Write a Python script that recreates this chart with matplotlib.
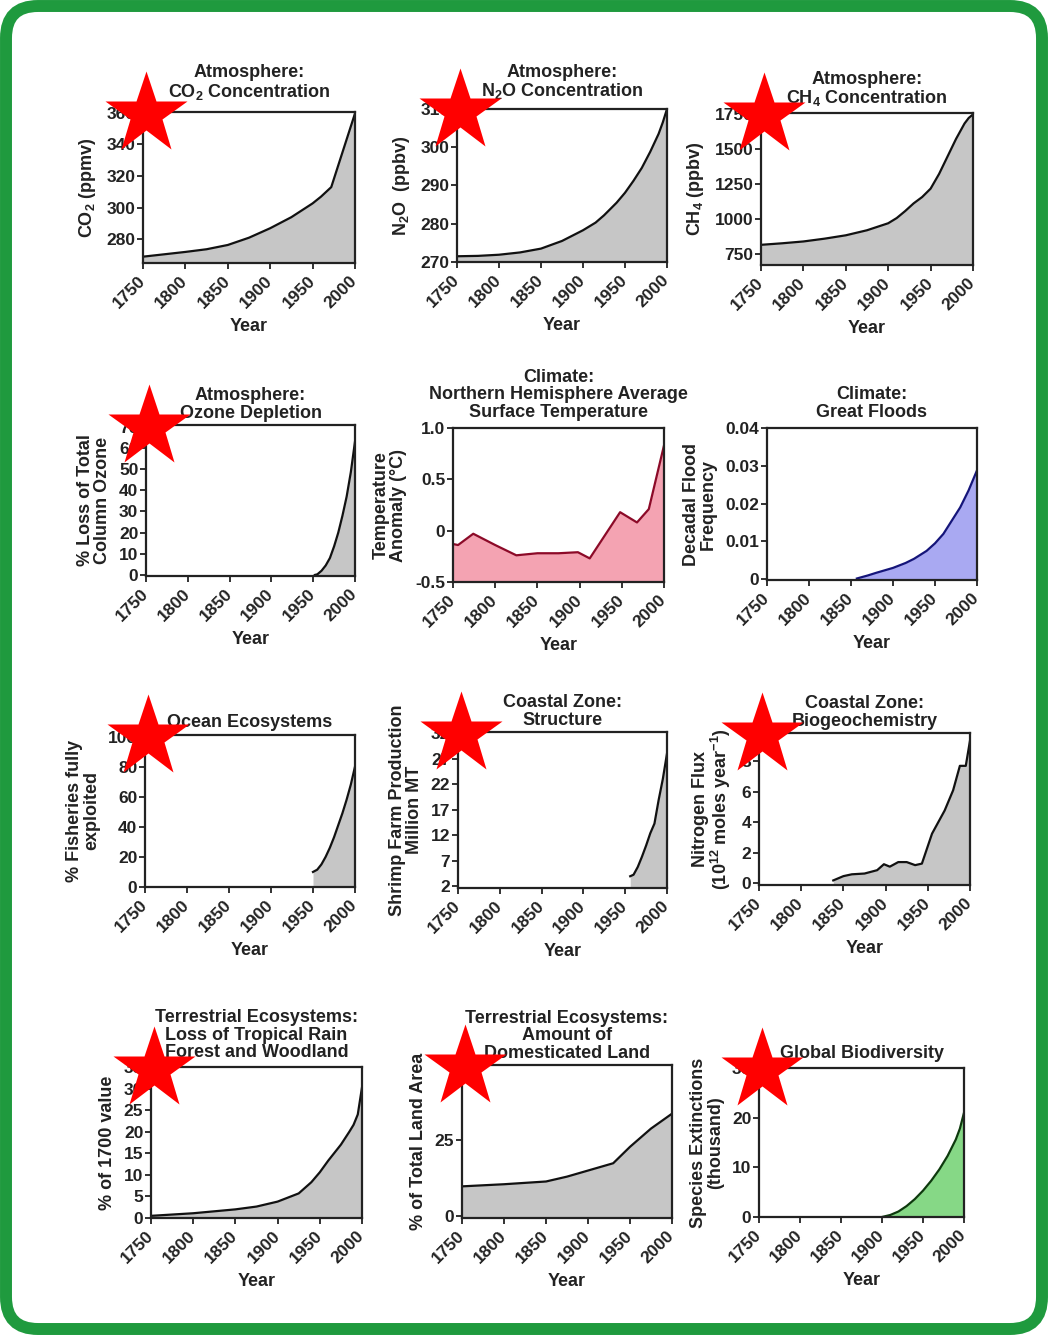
import matplotlib
matplotlib.use("Agg")
import matplotlib.pyplot as plt
from matplotlib.patches import FancyBboxPatch
from matplotlib.transforms import offset_copy

plt.rcParams["font.family"] = ["Liberation Sans", "DejaVu Sans"]
plt.rcParams["font.weight"] = "bold"
plt.rcParams["mathtext.fontset"] = "custom"
plt.rcParams["mathtext.rm"] = "Liberation Sans:bold"
plt.rcParams["mathtext.it"] = "Liberation Sans:bold"
plt.rcParams["mathtext.bf"] = "Liberation Sans:bold"
plt.rcParams["mathtext.default"] = "rm"

# x axis shared by all panels
year_ticks = [1750, 1800, 1850, 1900, 1950, 2000]

# values
co2_years = [1750, 1775, 1800, 1825, 1850, 1875, 1900, 1925, 1950, 1960, 1972, 2000]
co2_values = [269, 270.5, 272, 273.7, 276.4, 281, 287, 294, 302.7, 307, 313, 359.6]

n2o_years = [1750, 1775, 1800, 1825, 1850, 1875, 1900, 1915, 1925, 1940, 1950,
             1960, 1970, 1980, 1990, 1995, 2000]
n2o_values = [271.5, 271.6, 271.9, 272.5, 273.5, 275.5, 278.3, 280.3, 282.2, 285.5, 288.1,
              291.2, 294.6, 298.8, 303.5, 306.5, 310]

ch4_years = [1750, 1775, 1800, 1825, 1850, 1875, 1900, 1910, 1920, 1930, 1940, 1950,
             1960, 1970, 1980, 1990, 1995, 2000]
ch4_values = [814, 825, 838, 858, 882, 918, 968, 1005, 1055, 1110, 1155, 1215,
              1320, 1445, 1570, 1680, 1720, 1745]

ozone_years = [1952, 1955, 1960, 1965, 1970, 1975, 1980, 1985, 1990, 1995, 2000]
ozone_values = [0, 0.3, 2, 4.5, 8, 13.5, 20, 28, 37, 48.5, 63]

temp_years = [1750, 1756, 1774, 1800, 1825, 1850, 1875, 1898, 1912, 1948, 1968, 1982, 2000]
temp_values = [-0.13, -0.14, -0.03, -0.14, -0.24, -0.22, -0.22, -0.21, -0.27, 0.18, 0.08, 0.21, 0.83]

flood_years = [1857, 1870, 1880, 1900, 1915, 1925, 1940, 1950, 1960, 1970, 1980, 1990, 2000]
flood_values = [0.0002, 0.001, 0.0017, 0.003, 0.0043, 0.0054, 0.0075, 0.0095, 0.012,
                0.0155, 0.019, 0.0235, 0.0288]

fish_years = [1950, 1955, 1960, 1965, 1970, 1975, 1980, 1985, 1990, 1995, 2000]
fish_values = [10, 11.5, 15, 20, 26, 33, 41, 49, 58, 68, 80]

shrimp_years = [1956, 1960, 1965, 1970, 1975, 1980, 1985, 1990, 1995, 2000]
shrimp_values = [4, 4.3, 5.8, 7.8, 10, 12.4, 14.3, 18.9, 23, 28]

nitrogen_years = [1838, 1850, 1860, 1875, 1890, 1898, 1905, 1915, 1925, 1935, 1943,
                  1955, 1970, 1980, 1988, 1995, 2000]
nitrogen_values = [0.2, 0.48, 0.6, 0.65, 0.87, 1.26, 1.1, 1.4, 1.4, 1.2, 1.3,
                   3.26, 4.78, 6.1, 7.7, 7.7, 9.35]

forest_years = [1750, 1800, 1850, 1875, 1900, 1925, 1940, 1950, 1960, 1975, 1985,
                1990, 1995, 2000]
forest_values = [0.5, 1.1, 2.0, 2.65, 3.8, 5.7, 8.3, 10.6, 13.3, 17, 20,
                 21.6, 24, 30.3]

land_years = [1750, 1800, 1850, 1875, 1900, 1930, 1950, 1975, 2000]
land_values = [9.6, 10.3, 11.2, 12.8, 14.8, 17.2, 22.6, 28.6, 33.5]

extinct_years = [1900, 1910, 1920, 1930, 1940, 1950, 1960, 1970, 1980, 1990, 1995, 2000]
extinct_values = [0, 0.4, 1.1, 2.2, 3.6, 5.3, 7.3, 9.6, 12.3, 15.6, 17.8, 21]

# colours
GREY, BLACK = "#c6c6c6", "#111111"
PINK, DARK_RED = "#f4a3b2", "#8c0a28"
LILAC, NAVY = "#a9a9f2", "#15157a"
LIGHT_GREEN, DARK_GREEN = "#86d886", "#0d3a0d"

W, H = 1048, 1335

panels = [
    dict(years=co2_years, values=co2_values,
         title="Atmosphere:\nCO$_2$ Concentration", ylabel="CO$_2$ (ppmv)",
         ylim=(265, 360.5), yticks=[280, 300, 320, 340, 360],
         yticklabels=["280", "300", "320", "340", "360"],
         colors=(GREY, BLACK), rect=(143, 112, 355, 263), pad=11, star=True),
    dict(years=n2o_years, values=n2o_values,
         title="Atmosphere:\nN$_2$O Concentration", ylabel="N$_2$O  (ppbv)",
         ylim=(270, 310), yticks=[270, 280, 290, 300, 310],
         yticklabels=["270", "280", "290", "300", "310"],
         colors=(GREY, BLACK), rect=(457, 109, 667, 262), pad=9, star=True),
    dict(years=ch4_years, values=ch4_values,
         title="Atmosphere:\nCH$_4$ Concentration", ylabel="CH$_4$ (ppbv)",
         ylim=(670, 1755), yticks=[750, 1000, 1250, 1500, 1750],
         yticklabels=["750", "1000", "1250", "1500", "1750"],
         colors=(GREY, BLACK), rect=(761, 113, 973, 265), pad=7, star=True),
    dict(years=ozone_years, values=ozone_values,
         title="Atmosphere:\nOzone Depletion", ylabel="% Loss of Total\nColumn Ozone",
         ylim=(-0.5, 70.8), yticks=[0, 10, 20, 30, 40, 50, 60, 70],
         yticklabels=["0", "10", "20", "30", "40", "50", "60", "70"],
         colors=(GREY, BLACK), rect=(146, 425, 355, 576), pad=5, star=True),
    dict(years=temp_years, values=temp_values,
         title="Climate:\nNorthern Hemisphere Average\nSurface Temperature",
         ylabel="Temperature\nAnomaly (\u00b0C)",
         ylim=(-0.5, 1.0), yticks=[-0.5, 0, 0.5, 1.0],
         yticklabels=["-0.5", "0", "0.5", "1.0"],
         colors=(PINK, DARK_RED), rect=(453, 428, 664, 582), pad=8, star=False),
    dict(years=flood_years, values=flood_values,
         title="Climate:\nGreat Floods", ylabel="Decadal Flood\nFrequency",
         ylim=(-0.0002, 0.04), yticks=[0, 0.01, 0.02, 0.03, 0.04],
         yticklabels=["0", "0.01", "0.02", "0.03", "0.04"],
         colors=(LILAC, NAVY), rect=(767, 428, 977, 580), pad=8, star=False),
    dict(years=fish_years, values=fish_values,
         title="Ocean Ecosystems", ylabel="% Fisheries fully\nexploited",
         ylim=(0, 101), yticks=[0, 20, 40, 60, 80, 100],
         yticklabels=["0", "20", "40", "60", "80", "100"],
         colors=(GREY, BLACK), rect=(145, 735, 355, 887), pad=6, star=True),
    dict(years=shrimp_years, values=shrimp_values,
         title="Coastal Zone:\nStructure", ylabel="Shrimp Farm Production\nMillion MT",
         ylim=(1.7, 32.2), yticks=[2, 7, 12, 17, 22, 27, 32],
         yticklabels=["2", "7", "12", "17", "22", "27", "32"],
         colors=(GREY, BLACK), rect=(458, 732, 667, 888), pad=5, star=True),
    dict(years=nitrogen_years, values=nitrogen_values,
         title="Coastal Zone:\nBiogeochemistry",
         ylabel="Nitrogen Flux\n(10$^{12}$ moles year$^{-1}$)",
         ylim=(-0.1, 9.85), yticks=[0, 2, 4, 6, 8],
         yticklabels=["0", "2", "4", "6", "8"],
         colors=(GREY, BLACK), rect=(759, 733, 970, 885), pad=5, star=True),
    dict(years=forest_years, values=forest_values,
         title="Terrestrial Ecosystems:\nLoss of Tropical Rain\nForest and Woodland",
         ylabel="% of 1700 value",
         ylim=(0, 35), yticks=[0, 5, 10, 15, 20, 25, 30, 35],
         yticklabels=["0", "5", "10", "15", "20", "25", "30", "35"],
         colors=(GREY, BLACK), rect=(151, 1067, 362, 1218), pad=7, star=True),
    dict(years=land_years, values=land_values,
         title="Terrestrial Ecosystems:\nAmount of\nDomesticated Land",
         ylabel="% of Total Land Area",
         ylim=(-0.8, 49.5), yticks=[0, 25],
         yticklabels=["0", "25"],
         colors=(GREY, BLACK), rect=(462, 1065, 672, 1218), pad=5, star=True),
    dict(years=extinct_years, values=extinct_values,
         title="Global Biodiversity", ylabel="Species Extinctions\n(thousand)",
         ylim=(0, 30), yticks=[0, 10, 20, 30],
         yticklabels=["0", "10", "20", "30"],
         colors=(LIGHT_GREEN, DARK_GREEN), rect=(759, 1068, 964, 1217), pad=7, star=True),
]


def draw_panel(fig, p):
    left, top, right, bottom = p["rect"]
    ax = fig.add_axes([left / W, 1 - bottom / H, (right - left) / W, (bottom - top) / H])

    # shaded area under the curve, then the curve itself
    fill, line = p["colors"]
    ax.fill_between(p["years"], p["values"], p["ylim"][0], color=fill, lw=0)
    ax.plot(p["years"], p["values"], color=line, lw=1.6, solid_joinstyle="round")

    ax.set_xlim(1750, 2000)
    ax.set_ylim(*p["ylim"])
    ax.set_xticks(year_ticks)
    ax.set_xticklabels([str(y) for y in year_ticks])
    ax.set_yticks(p["yticks"])
    ax.set_yticklabels(p["yticklabels"])

    for side in ax.spines.values():
        side.set_linewidth(1.6)
        side.set_color("#222222")
    ax.tick_params(direction="out", length=4, width=1.3, pad=1.5, labelsize=12.5,
                   colors="#222222")
    for lab in ax.get_xticklabels():
        lab.set_rotation(45)
        lab.set_ha("right")
        lab.set_va("center")
        lab.set_rotation_mode("anchor")
    ax.tick_params(axis="x", pad=7)

    ax.set_title(p["title"], fontsize=13, fontweight="bold", linespacing=1.05,
                 pad=p["pad"], color="#222222")
    ax.set_xlabel("Year", fontsize=13, fontweight="bold", labelpad=5, color="#222222")
    ax.set_ylabel(p["ylabel"], fontsize=13, fontweight="bold", linespacing=1.0,
                  labelpad=6, color="#222222")

    # red star stamped on the top left corner
    if p["star"]:
        tr = offset_copy(ax.transAxes, fig=fig, x=3, y=-2, units="dots")
        ax.plot([0], [1], marker="*", ms=62, color="#ff0000", mec="none",
                transform=tr, clip_on=False, zorder=10)
    return ax


fig = plt.figure(figsize=(W / 100, H / 100), dpi=100, facecolor="white")

# rounded green frame round the whole sheet
frame = FancyBboxPatch((0.06, 0.06), W / 100 - 0.12, H / 100 - 0.12,
                       boxstyle="round,pad=0,rounding_size=0.32",
                       transform=fig.dpi_scale_trans, facecolor="none",
                       edgecolor="#1f9a3e", linewidth=8.6, zorder=-1)
fig.patches.append(frame)

for p in panels:
    draw_panel(fig, p)

fig.savefig("out.png", dpi=100)
